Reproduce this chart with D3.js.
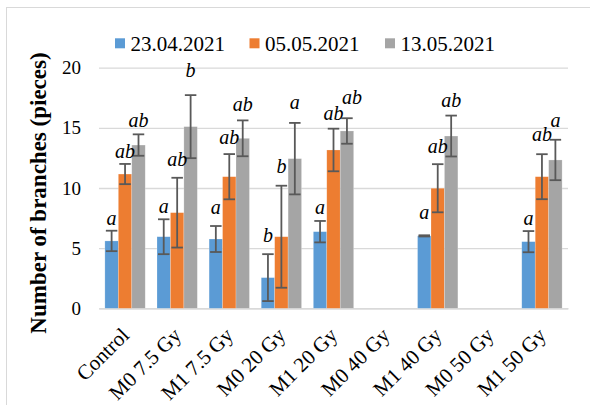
<!DOCTYPE html>
<html>
<head>
<meta charset="utf-8">
<script src="https://cdn.jsdelivr.net/npm/d3@7"></script>
<style>
  html, body { margin: 0; padding: 0; background: #fff; }
  svg { display: block; font-family: "Liberation Serif", "Times New Roman", serif; }
</style>
</head>
<body>
<svg id="chart" width="590" height="405"></svg>
<script>
// Treatment groups along the x axis
const categories = ["Control", "M0 7.5 Gy", "M1 7.5 Gy", "M0 20 Gy", "M1 20 Gy",
                    "M0 40 Gy", "M1 40 Gy", "M0 50 Gy", "M1 50 Gy"];

// Sampling dates (one bar series per date)
const seriesNames = ["23.04.2021", "05.05.2021", "13.05.2021"];

// Mean number of branches per date (null = no plants)
const values0423 = [5.6, 5.95, 5.76, 2.55, 6.37, null, 6.02, null, 5.54];
const values0505 = [11.16, 7.95, 10.94, 5.95, 13.16, null, 9.98, null, 10.94];
const values1305 = [13.57, 15.1, 14.13, 12.44, 14.74, null, 14.32, null, 12.33];

// Standard deviations
const errors0423 = [0.85, 1.45, 1.08, 1.95, 0.89, null, 0.05, null, 0.88];
const errors0505 = [0.84, 2.9, 1.88, 4.24, 1.77, null, 2.0, null, 1.87];
const errors1305 = [0.89, 2.62, 1.49, 2.97, 1.06, null, 1.7, null, 1.68];

// Significance letters
const letters0423 = ["a", "a", "a", "b", "a", "", "a", "", "a"];
const letters0505 = ["ab", "ab", "ab", "b", "ab", "", "ab", "", "ab"];
const letters1305 = ["ab", "b", "ab", "a", "ab", "", "ab", "", "a"];

// Y axis ticks
const yTicks = [0, 5, 10, 15, 20];

// ---- layout ----
const serif = "Liberation Serif, Times New Roman, serif";
const colors = ["#5B9BD5", "#ED7D31", "#A5A5A5"];
// lift of each letter above its error bar (px), per series
const letterGap = [
  [6, 6, 12, 12, 7, 0, 16, 0, 6],
  [6, 12, 10, 13, 9, 0, 11, 0, 13],
  [7, 18, 9, 14, 14, 0, 9, 0, 13]
];
const letterShift = [
  [0, 0, 0, 0, 0, 0, 0, 0, 0],
  [0, 0, 0, 0, 0, 0, 0, 0, 0],
  [0, 0, 0, 0, 5, 0, 0, 0, 0]
];

const values = [values0423, values0505, values1305];
const errors = [errors0423, errors0505, errors1305];
const letters = [letters0423, letters0505, letters1305];

const svg = d3.select("#chart");
const plotLeft = 99, plotRight = 568, plotTop = 67.7, plotBottom = 308.3;

// chart frame
svg.append("rect")
  .attr("x", 6.5).attr("y", 7.5)
  .attr("width", 620).attr("height", 440)
  .attr("fill", "none").attr("stroke", "#d9d9d9").attr("stroke-width", 1);

const x = d3.scaleBand().domain(categories).range([plotLeft, plotRight])
  .paddingInner(0.226).paddingOuter(0.113);
const xs = d3.scaleBand().domain(d3.range(seriesNames.length)).range([0, x.bandwidth()]);
const y = d3.scaleLinear().domain([0, 20]).range([plotBottom, plotTop]);

// y axis with gridlines
const yAxis = svg.append("g")
  .attr("transform", `translate(${plotLeft},0)`)
  .call(d3.axisLeft(y).tickValues(yTicks).tickSize(-(plotRight - plotLeft)).tickPadding(18))
  .attr("font-family", serif);
yAxis.select(".domain").remove();
yAxis.selectAll(".tick line").attr("stroke", "#d9d9d9").attr("stroke-width", 1.3);
yAxis.selectAll(".tick text").attr("font-size", 19).attr("fill", "#000");

// x axis
const xAxis = svg.append("g")
  .attr("transform", `translate(0,${plotBottom})`)
  .call(d3.axisBottom(x).tickSize(0).tickPadding(0))
  .attr("font-family", serif);
xAxis.select(".domain").attr("stroke", "#d9d9d9").attr("stroke-width", 1.5);
xAxis.selectAll(".tick text")
  .attr("font-size", 21).attr("fill", "#000")
  .attr("text-anchor", "end")
  .attr("dy", "0.35em")
  .attr("transform", "translate(0,23) rotate(-45)")
  .attr("x", 0).attr("y", 0);

// bars
const rows = [];
seriesNames.forEach((s, si) => {
  categories.forEach((c, ci) => {
    if (values[si][ci] != null) {
      rows.push({ si, ci, c, v: values[si][ci], e: errors[si][ci], l: letters[si][ci] });
    }
  });
});

const marks = svg.append("g");
marks.selectAll("rect.bar").data(rows).join("rect")
  .attr("class", "bar")
  .attr("x", d => x(d.c) + xs(d.si))
  .attr("width", xs.bandwidth())
  .attr("y", d => y(d.v))
  .attr("height", d => y(0) - y(d.v))
  .attr("fill", d => colors[d.si])
  .attr("stroke", "#fff").attr("stroke-opacity", 0.35).attr("stroke-width", 0.6);

// error bars
const capW = 11.5;
const eb = marks.selectAll("g.err").data(rows).join("g").attr("class", "err")
  .attr("stroke", "#595959").attr("stroke-width", 1.8);
const cxOf = d => x(d.c) + xs(d.si) + xs.bandwidth() / 2;
eb.append("line")
  .attr("x1", cxOf).attr("x2", cxOf)
  .attr("y1", d => y(d.v + d.e)).attr("y2", d => y(d.v - d.e));
eb.append("line")
  .attr("x1", d => cxOf(d) - capW / 2).attr("x2", d => cxOf(d) + capW / 2)
  .attr("y1", d => y(d.v + d.e)).attr("y2", d => y(d.v + d.e));
eb.append("line")
  .attr("x1", d => cxOf(d) - capW / 2).attr("x2", d => cxOf(d) + capW / 2)
  .attr("y1", d => y(d.v - d.e)).attr("y2", d => y(d.v - d.e));

// significance letters
marks.selectAll("text.sig").data(rows.filter(d => d.l)).join("text")
  .attr("class", "sig")
  .attr("x", d => cxOf(d) + letterShift[d.si][d.ci])
  .attr("y", d => y(d.v + d.e) - letterGap[d.si][d.ci])
  .attr("text-anchor", "middle")
  .attr("font-family", serif)
  .attr("font-size", 20).attr("font-style", "italic").attr("fill", "#000")
  .text(d => d.l);

// y axis title
svg.append("text")
  .attr("transform", `translate(45.5,${(plotTop + plotBottom) / 2 + 5}) rotate(-90)`)
  .attr("text-anchor", "middle")
  .attr("font-family", serif)
  .attr("font-size", 23).attr("font-weight", "bold").attr("fill", "#000")
  .text("Number of branches (pieces)");

// legend
const legendX = [115, 249.5, 385];
const lg = svg.append("g").selectAll("g").data(seriesNames).join("g")
  .attr("transform", (d, i) => `translate(${legendX[i]},38.3)`);
lg.append("rect").attr("width", 10).attr("height", 10).attr("fill", (d, i) => colors[i]);
lg.append("text").attr("x", 15.5).attr("y", 5).attr("dy", "0.35em")
  .attr("font-family", serif)
  .attr("font-size", 21).attr("fill", "#000").text(d => d);
</script>
</body>
</html>
